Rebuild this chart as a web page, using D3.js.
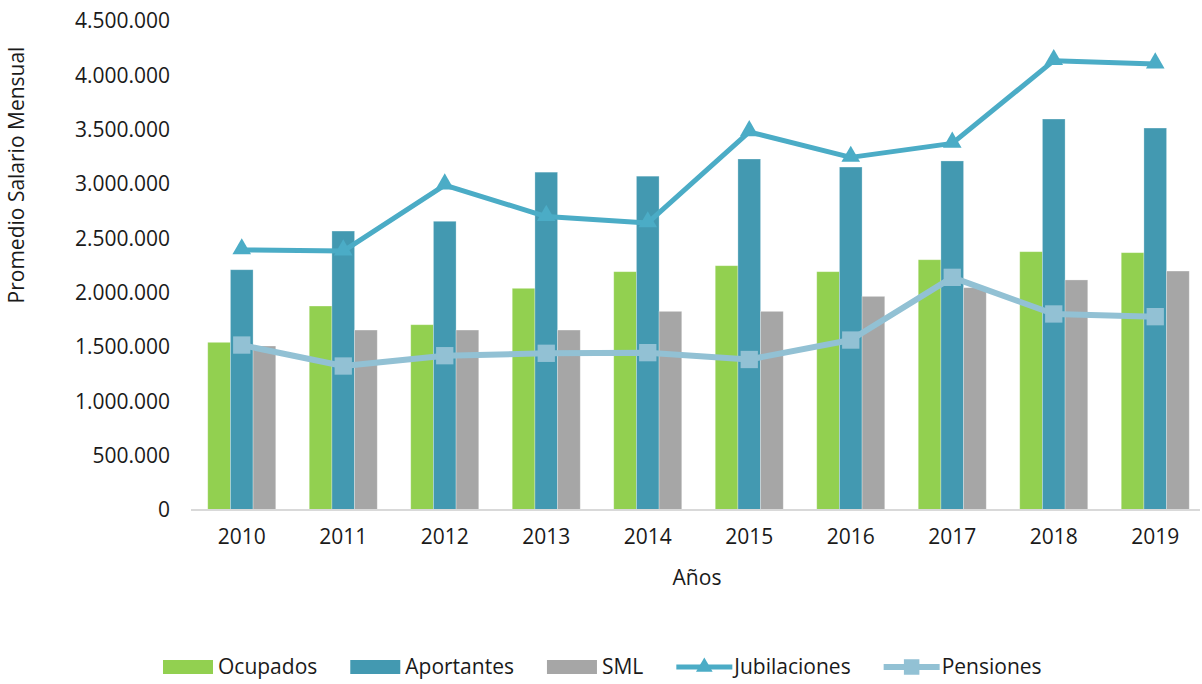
<!DOCTYPE html>
<html>
<head>
<meta charset="utf-8">
<script src="https://cdn.jsdelivr.net/npm/d3@7"></script>
<style>
  body { margin: 0; background: #fff; }
  text { font-family: "Open Sans", sans-serif; fill: #1a1a1a; }
</style>
</head>
<body>
<svg width="1202" height="684"></svg>
<script>
var years = [2010, 2011, 2012, 2013, 2014, 2015, 2016, 2017, 2018, 2019];
var ocupados    = [1543000, 1877000, 1705000, 2040000, 2193000, 2248000, 2193000, 2303000, 2377000, 2368000];
var aportantes  = [2211000, 2567000, 2657000, 3109000, 3072000, 3230000, 3156000, 3212000, 3598000, 3515000];
var sml         = [1509000, 1656000, 1656000, 1656000, 1828000, 1828000, 1966000, 2046000, 2117000, 2199000];
var jubilaciones = [2393000, 2383000, 2990000, 2700000, 2642000, 3480000, 3245000, 3374000, 4135000, 4104000];
var pensiones   = [1518000, 1325000, 1420000, 1442000, 1448000, 1385000, 1564000, 2141000, 1804000, 1779000];
var yTicks = [0, 500000, 1000000, 1500000, 2000000, 2500000, 3000000, 3500000, 4000000, 4500000];

var barSeries = [
  { name: "Ocupados", values: ocupados, color: "#92d050" },
  { name: "Aportantes", values: aportantes, color: "#4399b1" },
  { name: "SML", values: sml, color: "#a6a6a6" }
];
var lineSeries = [
  { name: "Jubilaciones", values: jubilaciones, color: "#4bacc6", marker: d3.symbolTriangle, width: 5, size: 150 },
  { name: "Pensiones", values: pensiones, color: "#92c1d4", marker: d3.symbolSquare, width: 6, size: 300 }
];

var svg = d3.select("svg");
var plotLeft = 191, plotRight = 1206, plotTop = 21, plotBottom = 510;
var fontSize = "21px";

var x = d3.scaleBand().domain(years).range([plotLeft, plotRight]).paddingInner(0.33).paddingOuter(0.165);
var xs = d3.scaleBand().domain(barSeries.map(d => d.name)).range([0, x.bandwidth()]);
var y = d3.scaleLinear().domain([0, 4500000]).range([plotBottom, plotTop]);

var fmt = d => d3.format(",")(d).replace(/,/g, ".");

// y tick labels (no axis line)
svg.append("g")
  .attr("transform", "translate(" + plotLeft + ",0)")
  .call(d3.axisLeft(y).tickValues(yTicks).tickFormat(fmt).tickSize(0).tickPadding(21))
  .call(g => g.select(".domain").remove())
  .selectAll("text").style("font-size", fontSize).attr("fill", "#1a1a1a");

// bars
var groups = svg.append("g").selectAll("g")
  .data(years).enter()
  .append("g")
  .attr("transform", d => "translate(" + x(d) + ",0)");

barSeries.forEach(function(s) {
  groups.append("rect")
    .attr("x", xs(s.name))
    .attr("width", xs.bandwidth())
    .attr("y", (d, i) => y(s.values[i]))
    .attr("height", (d, i) => plotBottom - y(s.values[i]))
    .attr("fill", s.color)
    .attr("stroke", "#fff")
    .attr("stroke-opacity", 0.35)
    .attr("stroke-width", 0.8);
});

// x axis
svg.append("g")
  .attr("transform", "translate(0," + plotBottom + ")")
  .call(d3.axisBottom(x).tickSize(0).tickPadding(19))
  .call(g => g.select(".domain").attr("stroke", "#d9d9d9").attr("stroke-width", 2)
    .attr("d", "M" + plotLeft + ",0H" + (plotRight - 6)))
  .selectAll("text").style("font-size", fontSize).attr("fill", "#1a1a1a");

// lines
var cx = d => x(d) + x.bandwidth() / 2;
lineSeries.forEach(function(s) {
  var line = d3.line().x((d, i) => cx(years[i])).y(d => y(d));
  svg.append("path")
    .datum(s.values)
    .attr("fill", "none")
    .attr("stroke", s.color)
    .attr("stroke-width", s.width)
    .attr("stroke-linejoin", "round")
    .attr("d", line);
  svg.append("g").selectAll("path")
    .data(s.values).enter()
    .append("path")
    .attr("d", d3.symbol().type(s.marker).size(s.size))
    .attr("transform", (d, i) => "translate(" + cx(years[i]) + "," + (y(d) + (s.name === "Jubilaciones" ? -1 : 0)) + ")")
    .attr("fill", s.color);
});

// axis titles
svg.append("text")
  .attr("transform", "translate(24,175) rotate(-90)")
  .attr("text-anchor", "middle")
  .style("font-size", fontSize)
  .text("Promedio Salario Mensual");

svg.append("text")
  .attr("x", 697).attr("y", 585)
  .attr("text-anchor", "middle")
  .style("font-size", fontSize)
  .text("Años");

// legend
var legend = svg.append("g").attr("transform", "translate(0,667)");
var lx = 163;
barSeries.concat(lineSeries).forEach(function(s) {
  var item = legend.append("g").attr("transform", "translate(" + lx + ",0)");
  if (s.marker) {
    item.append("line").attr("x1", 0).attr("x2", 56).attr("y1", 0).attr("y2", 0)
      .attr("stroke", s.color).attr("stroke-width", s.width);
    item.append("path").attr("d", d3.symbol().type(s.marker).size(s.size * 0.8))
      .attr("transform", "translate(28,0)").attr("fill", s.color);
  } else {
    item.append("rect").attr("x", 0).attr("y", -7).attr("width", 50).attr("height", 14)
      .attr("fill", s.color);
  }
  var t = item.append("text")
    .attr("x", s.marker ? 58 : 55).attr("y", 7)
    .style("font-size", fontSize)
    .text(s.name);
  lx += (s.marker ? 58 : 55) + t.node().getComputedTextLength() + 33;
});
</script>
</body>
</html>
